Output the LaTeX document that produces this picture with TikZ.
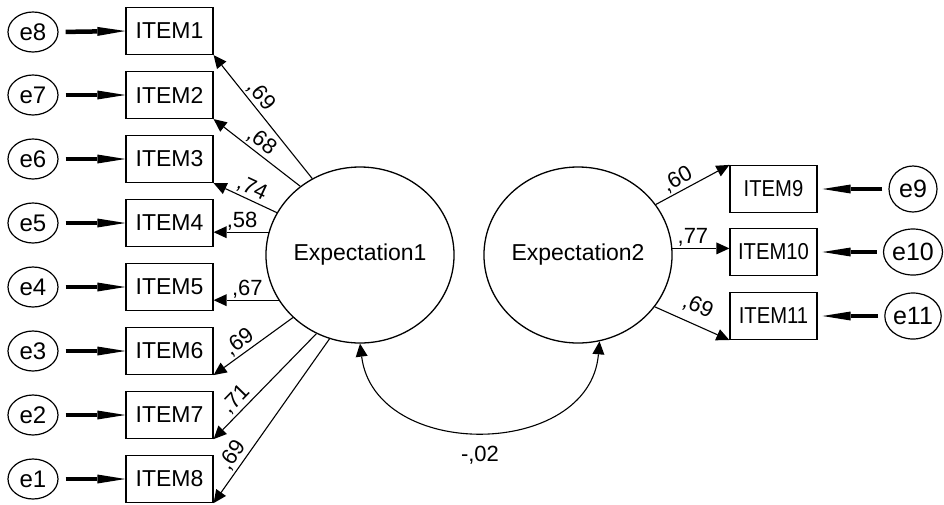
\documentclass[tikz,border=0pt]{standalone}
\usepackage{fontspec}
\usepackage{graphicx}
\setmainfont{Liberation Sans}
\usetikzlibrary{arrows.meta,shapes.geometric,calc}
\begin{document}
\begin{tikzpicture}[x=1pt,y=-1pt,
  item/.style={draw, line width=1.2pt, minimum width=87pt, minimum height=47pt, inner sep=0pt, font=\fontsize{23}{23}\selectfont},
  err/.style={draw, ellipse, line width=1.2pt, minimum width=50pt, minimum height=40pt, inner sep=0pt, font=\fontsize{24}{24}\selectfont},
  errr/.style={err, minimum width=48pt, minimum height=46pt, font=\fontsize{25}{25}\selectfont},
  latent/.style={draw, ellipse, line width=1.3pt, minimum width=164pt, minimum height=176pt, inner sep=0pt, font=\fontsize{23}{23}\selectfont},
  load/.style={line width=1.1pt, -{Triangle[length=13pt,width=12pt,line width=0pt]}},
  cov/.style={line width=1.1pt, {Triangle[length=13pt,width=12pt,line width=0pt]}-{Triangle[length=13pt,width=12pt,line width=0pt]}},
  errarrow/.style={line width=4.5pt, -{Triangle[length=28pt,width=9pt,line width=0pt]}},
  lbl/.style={font=\fontsize{22}{22}\selectfont, sloped, above, inner sep=2pt},
  plbl/.style={font=\fontsize{22}{22}\selectfont, inner sep=0pt}]
\useasboundingbox (0,0) rectangle (944,504);
% left indicators
\node[item] (I1) at (169.5,31) {ITEM1};
\node[item] (I2) at (169.5,95) {ITEM2};
\node[item] (I3) at (169.5,159) {ITEM3};
\node[item] (I4) at (169.5,223) {ITEM4};
\node[item] (I5) at (169.5,287) {ITEM5};
\node[item] (I6) at (169.5,351) {ITEM6};
\node[item] (I7) at (169.5,415) {ITEM7};
\node[item] (I8) at (169.5,479) {ITEM8};
\node[err] (e8) at (33,32) {e8};
\node[err] (e7) at (33,95) {e7};
\node[err] (e6) at (33,159) {e6};
\node[err] (e5) at (33,223) {e5};
\node[err] (e4) at (33,287) {e4};
\node[err] (e3) at (33,351) {e3};
\node[err] (e2) at (33,415) {e2};
\node[err] (e1) at (33,479) {e1};
% right indicators
\node[item] (I9) at (773.5,189) {\scalebox{0.88}[1]{ITEM9}};
\node[item] (I10) at (773.5,252) {\scalebox{0.88}[1]{ITEM10}};
\node[item] (I11) at (773.5,316) {\scalebox{0.88}[1]{ITEM11}};
\node[errr] (e9) at (913,189) {e9};
\node[errr] (e10) at (913,252) {e10};
\node[errr] (e11) at (913,316) {e11};
% latents
\node[latent] (E1) at (360,255) {Expectation1};
\node[latent] (E2) at (578,255) {Expectation2};
% error arrows
\foreach \e/\i in {e8/I1,e7/I2,e6/I3,e5/I4,e4/I5,e3/I6,e2/I7,e1/I8}
  \draw[errarrow, shorten <=7pt] (\e.east) -- (\i.west);
\foreach \e/\i in {e9/I9,e10/I10,e11/I11}
  \draw[errarrow, shorten <=6pt, shorten >=5pt] (\e.west) -- (\i.east);
% loadings Expectation1
\draw[load] (E1.122) -- (I1.south east) node[lbl,pos=0.61] {,69};
\draw[load] (E1.131) -- (I2.south east) node[lbl,pos=0.53] {,68};
\draw[load] (E1.153) -- (I3.south east) node[lbl,pos=0.47] {,74};
\draw[load] (E1.166) -- (E1.166 -| I4.east) node[lbl,pos=0.48,inner sep=1pt] {,58};
\draw[load] (E1.209) -- (E1.209 -| I5.east) node[lbl,pos=0.48,inner sep=1pt] {,67};
\draw[load] (E1.223) -- (I6.south east) node[lbl,pos=0.59] {,69};
\draw[load] (E1.241) -- (I7.south east) node[lbl,pos=0.70] {,71};
\draw[load] (E1.250) -- (I8.south east) node[lbl,pos=0.75] {,69};
% loadings Expectation2
\draw[load] (E2.33) -- (I9.north west) node[lbl,pos=0.37] {,60};
\draw[load] (E2.4) -- (E2.4 -| I10.west) node[lbl,pos=0.36] {,77};
\draw[load] (E2.-34) -- (I11.south west) node[lbl,pos=0.48,yshift=6pt] {,69};
% covariance
\draw[cov] (E1.south) .. controls +(15,118) and +(-10,118) .. (E2.284);
\node[plbl] (cv) at (480,455) {-,02};
\end{tikzpicture}
\end{document}
